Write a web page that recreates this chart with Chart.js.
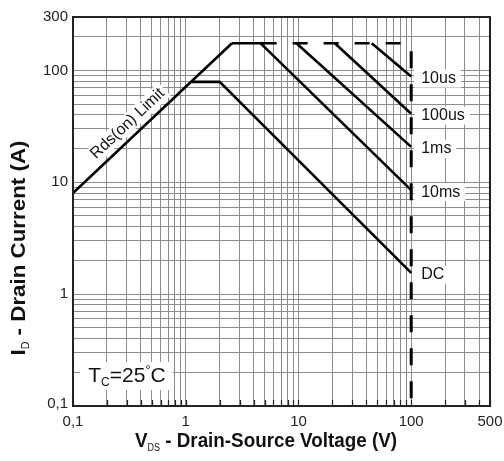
<!DOCTYPE html>
<html><head><meta charset="utf-8">
<script src="https://cdn.jsdelivr.net/npm/chart.js@4"></script>
<style>html,body{margin:0;padding:0;background:#fff}#wrap{width:504px;height:461px}</style>
</head><body><div id="wrap"><canvas id="c" width="504" height="461"></canvas></div>
<script>
// ---- data (V = drain-source voltage, I = drain current) ----
const rdsV = [0.1, 2.57],  rdsI = [8, 175];
const topSolidV = [2.57, 6.4], topSolidI = [175, 175];
const topDashV = [6.4, 82],  topDashI = [175, 175];
const dcV = [1.13, 2.0, 100], dcI = [79, 79, 1.55];
const ms10V = [4.6, 100],  ms10I = [175, 8.5];
const ms1V = [9.6, 100],   ms1I = [175, 20.7];
const us100V = [21, 100],  us100I = [175, 41];
const us10V = [44.6, 100], us10I = [175, 88];
const vLimV = [100, 100],  vLimI = [148, 0.1];

const curveNames = ['10us', '100us', '1ms', '10ms', 'DC'];
const curveEndI = [88, 41, 20.7, 8.5, 1.55];

const xTicks = [0.1,0.2,0.3,0.4,0.5,0.6,0.7,0.8,0.9,1,2,3,4,5,6,7,8,9,10,20,30,40,50,60,70,80,90,100,200,300,400,500];
const yTicks = [0.1,0.2,0.3,0.4,0.5,0.6,0.7,0.8,0.9,1,2,3,4,5,6,7,8,9,10,20,30,40,50,60,70,80,90,100,200,300];
const xLabelVals = [0.1, 1, 10, 100, 500], xLabelText = ['0,1', '1', '10', '100', '500'];
const yLabelVals = [0.1, 1, 10, 100, 300], yLabelText = ['0,1', '1', '10', '100', '300'];

function pts(V, I) { return V.map((v, i) => ({ x: v, y: I[i] })); }
function ds(V, I, extra) {
  return Object.assign({ data: pts(V, I), borderColor: '#000', borderWidth: 2.6, pointRadius: 0, tension: 0, fill: false, borderCapStyle: 'butt', borderJoinStyle: 'miter' }, extra || {});
}

const FONT = 'Liberation Sans, Arial, sans-serif';

function richText(ctx, segs, cx, cy, targetW, rot) {
  let w = 0;
  segs.forEach(s => { ctx.font = (s.bold ? 'bold ' : '') + s.size + 'px ' + FONT; s.w = ctx.measureText(s.t).width; w += s.w; });
  const sc = targetW ? targetW / w : 1;
  ctx.save();
  ctx.translate(cx, cy);
  if (rot) ctx.rotate(rot);
  ctx.scale(sc, 1);
  let x = -w / 2;
  ctx.textBaseline = 'middle';
  ctx.textAlign = 'left';
  ctx.fillStyle = '#111';
  segs.forEach(s => { ctx.font = (s.bold ? 'bold ' : '') + s.size + 'px ' + FONT; ctx.fillText(s.t, x, s.dy || 0); x += s.w; });
  ctx.restore();
}

const deco = {
  id: 'deco',
  beforeDatasetsDraw(chart) {
    const ctx = chart.ctx, xs = chart.scales.x, ys = chart.scales.y;
    ctx.save();
    ctx.font = '16px ' + FONT;
    ctx.textBaseline = 'middle';
    ctx.textAlign = 'left';
    const xEnd = xs.getPixelForValue(100);
    curveNames.forEach((n, i) => {
      const y = ys.getPixelForValue(curveEndI[i]) + 2;
      const w = ctx.measureText(n).width;
      ctx.fillStyle = '#fff';
      ctx.fillRect(xEnd + 3, y - 9, w + 12, 18);
      ctx.fillStyle = '#111';
      ctx.fillText(n, xEnd + 10, y);
    });
    // Rds(on) limit label
    const p1x = xs.getPixelForValue(rdsV[0]), p1y = ys.getPixelForValue(rdsI[0]);
    const p2x = xs.getPixelForValue(rdsV[1]), p2y = ys.getPixelForValue(rdsI[1]);
    const ang = Math.atan2(p2y - p1y, p2x - p1x);
    const t = 0.40;
    let cx = p1x + (p2x - p1x) * t, cy = p1y + (p2y - p1y) * t;
    cx += Math.sin(ang) * 13; cy -= Math.cos(ang) * 13;
    ctx.save();
    ctx.translate(cx, cy); ctx.rotate(ang);
    ctx.font = '16px ' + FONT;
    const rw = ctx.measureText('Rds(on) Limit').width;
    ctx.fillStyle = '#fff';
    ctx.fillRect(-rw / 2 - 3, -9, rw + 6, 18);
    ctx.fillStyle = '#111';
    ctx.textAlign = 'center'; ctx.textBaseline = 'middle';
    ctx.fillText('Rds(on) Limit', 0, 0);
    ctx.restore();
    // Tc label
    ctx.fillStyle = '#fff';
    ctx.fillRect(80, 362, 93, 28);
    richText(ctx, [{ t: 'T', size: 21 }, { t: 'C', size: 12, dy: 7 }, { t: '=25', size: 21 }, { t: '°', size: 13, dy: -6 }, { t: 'C', size: 21 }], 127, 376, 0, 0);
    ctx.restore();
  },
  afterDatasetsDraw(chart) {
    const ctx = chart.ctx, xs = chart.scales.x, ys = chart.scales.y, a = chart.chartArea;
    ctx.save();
    ctx.strokeStyle = '#222'; ctx.lineWidth = 1.2;
    xTicks.forEach(v => {
      const x = Math.round(xs.getPixelForValue(v)) + 0.5;
      ctx.beginPath(); ctx.moveTo(x, a.bottom); ctx.lineTo(x, a.bottom - 6); ctx.stroke();
    });
    ctx.strokeStyle = '#222'; ctx.lineWidth = 2;
    ctx.strokeRect(a.left, a.top, a.right - a.left, a.bottom - a.top);
    ctx.fillStyle = '#222';
    ctx.font = '15px ' + FONT;
    ctx.textAlign = 'center'; ctx.textBaseline = 'middle';
    xLabelVals.forEach((v, i) => ctx.fillText(xLabelText[i], xs.getPixelForValue(v), a.bottom + 16));
    ctx.textAlign = 'right';
    yLabelVals.forEach((v, i) => ctx.fillText(yLabelText[i], a.left - 5, ys.getPixelForValue(v) - (i === 0 ? 2 : 0)));
    richText(ctx, [{ t: 'V', size: 21, bold: true }, { t: 'DS', size: 10, dy: 7 }, { t: ' - Drain-Source Voltage (V)', size: 21, bold: true }], 266, 441, 262, 0);
    richText(ctx, [{ t: 'I', size: 21, bold: true }, { t: 'D', size: 10, dy: 7 }, { t: ' - Drain Current (A)', size: 21, bold: true }], 19, 248, 215, -Math.PI / 2);
    ctx.restore();
  }
};

new Chart(document.getElementById('c'), {
  type: 'line',
  data: {
    datasets: [
      ds(rdsV, rdsI),
      ds(topSolidV, topSolidI),
      ds(topDashV, topDashI, { borderDash: [15, 16], borderDashOffset: 15 }),
      ds(dcV, dcI),
      ds(ms10V, ms10I),
      ds(ms1V, ms1I),
      ds(us100V, us100I),
      ds(us10V, us10I),
      ds(vLimV, vLimI, { borderWidth: 3, borderDash: [17, 16] })
    ]
  },
  options: {
    responsive: false,
    animation: false,
    events: [],
    layout: { padding: { left: 73, right: 14, top: 17, bottom: 55 } },
    plugins: { legend: { display: false }, tooltip: { enabled: false } },
    scales: {
      x: {
        type: 'logarithmic', min: 0.1, max: 500,
        afterBuildTicks: s => { s.ticks = xTicks.map(v => ({ value: v })); },
        ticks: { display: false },
        grid: { color: '#8c8c8c', lineWidth: 1, drawTicks: false },
        border: { display: false }
      },
      y: {
        type: 'logarithmic', min: 0.1, max: 300,
        afterBuildTicks: s => { s.ticks = yTicks.map(v => ({ value: v })); },
        ticks: { display: false },
        grid: { color: '#8c8c8c', lineWidth: 1, drawTicks: false },
        border: { display: false }
      }
    }
  },
  plugins: [deco]
});
</script>
</body></html>
